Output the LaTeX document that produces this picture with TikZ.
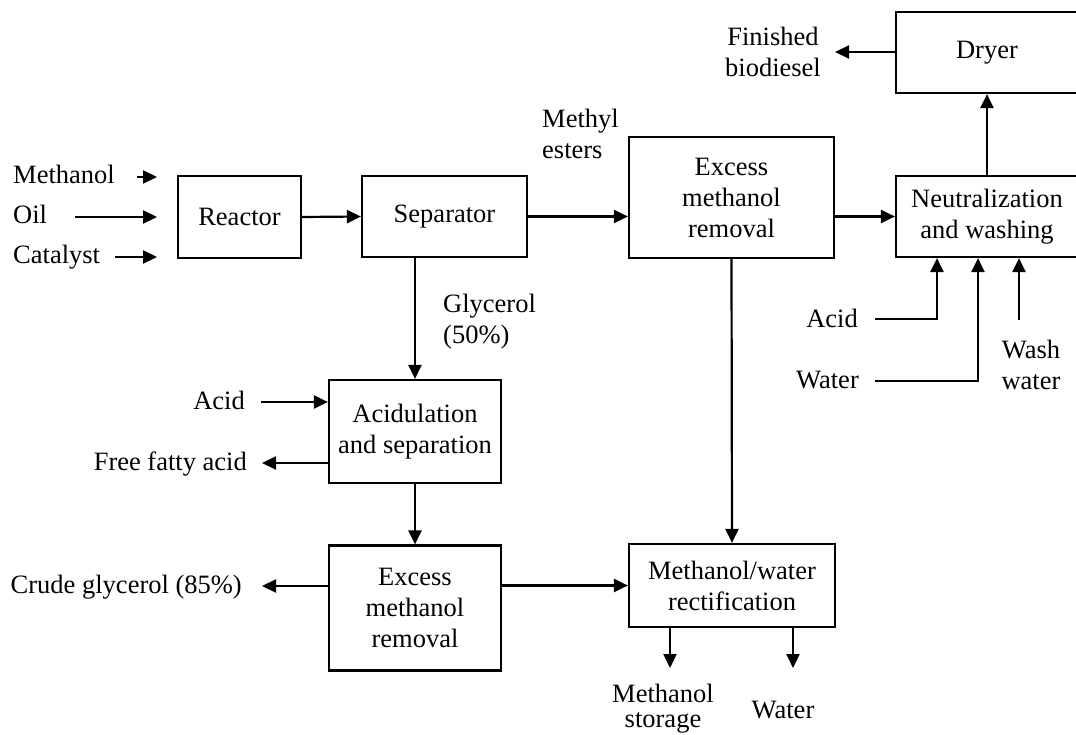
\documentclass[tikz,border=0pt]{standalone}
\usepackage{fontspec}
\setmainfont{Liberation Serif}
\usetikzlibrary{arrows.meta,calc}
\begin{document}
\begin{tikzpicture}[x=1pt,y=-1pt,
  every node/.style={font=\fontsize{26.5}{31}\selectfont, inner sep=0pt},
  box/.style={draw, line width=2.2pt, align=center},
  lbl/.style={align=left},
  clbl/.style={align=center},
  flow/.style={line width=2.2pt, -{Triangle[length=14pt,width=13pt]}},
]
\useasboundingbox (0,0) rectangle (1076,735);
\clip (0,0) rectangle (1076,735);

% process boxes
\node[box, minimum width=123pt, minimum height=82pt] (reactor) at (239.5,217) {Reactor};
\node[box, minimum width=165pt, minimum height=81pt] (sep) at (444.5,216.5) {Separator};
\node[box, minimum width=205pt, minimum height=121pt] (exc1) at (731.5,197.5) {Excess\\methanol\\removal};
\node[box, minimum width=182pt, minimum height=81pt] (dryer) at (987,52.5) {Dryer};
\node[box, minimum width=182pt, minimum height=81pt] (neut) at (987,216.5) {Neutralization\\and washing};
\node[box, minimum width=172pt, minimum height=103pt] (acidb) at (415,431.5) {Acidulation\\and separation};
\node[box, minimum width=172pt, minimum height=125pt] (exc2) at (415,608) {Excess\\methanol\\removal};
\node[box, minimum width=206pt, minimum height=83pt] (mw) at (732,585.5) {Methanol/water\\rectification};

% labels
\node[anchor=base west] (lmeth) at (13,184) {Methanol};
\node[anchor=base west] (loil) at (13,224) {Oil};
\node[anchor=base west] (lcat) at (13,264) {Catalyst};
\node[lbl, anchor=north west] (lme) at (542,109) {Methyl\\esters};
\node[clbl, anchor=north] (lfin) at (773,27) {Finished\\biodiesel};
\node[lbl, anchor=north west] (lgly) at (443,294) {Glycerol\\(50\%)};
\node[anchor=base east] (lacid1) at (245,409) {Acid};
\node[anchor=base east] (lffa) at (247,470) {Free fatty acid};
\node[anchor=base east] (lcrude) at (242,593) {Crude glycerol (85\%)};
\node[anchor=base east] (lacid2) at (858,327) {Acid};
\node[anchor=base east] (lwater1) at (859,388) {Water};
\node[clbl, anchor=north] (lwash) at (1031,340) {Wash\\water};
\node[clbl, anchor=north] (lstore) at (663,684) {Methanol\\[-6pt]storage};
\node[anchor=base] (lwater2) at (783,718) {Water};

% free ends
\coordinate (m1) at (137,177); \coordinate (m2) at (157,177);
\coordinate (o1) at (75,217);  \coordinate (o2) at (157,217);
\coordinate (c1) at (115,257); \coordinate (c2) at (157,257);
\coordinate (fin) at (835,52);
\coordinate (a1) at (261,402);
\coordinate (ffa) at (262,463);
\coordinate (crude) at (262,586);
\coordinate (acid2) at (875,319);
\coordinate (water1) at (875,381);
\coordinate (wash) at (1019,320);
\coordinate (mstore) at (670,668);
\coordinate (wout) at (793,668);

% connectors
\draw[flow] (m1) -- (m2);
\draw[flow] (o1) -- (o2);
\draw[flow] (c1) -- (c2);
\draw[flow] (reactor.east) -- (sep.west);
\draw[flow] (sep.east) -- (sep.east -| exc1.west);
\draw[flow] (exc1.east |- neut.west) -- (neut.west);
\draw[flow] (neut.north) -- (dryer.south);
\draw[flow] (dryer.west |- fin) -- (fin);
\draw[flow] (acidb.north |- sep.south) -- (acidb.north);
\draw[flow] (a1) -- (a1 -| acidb.west);
\draw[flow] (ffa -| acidb.west) -- (ffa);
\draw[flow] (acidb.south) -- (exc2.north);
\draw[flow] (crude -| exc2.west) -- (crude);
\draw[flow] (exc2.east |- mw.west) -- (mw.west);
\draw[flow] (exc1.south) -- (mw.north);
\draw[flow] (mstore |- mw.south) -- (mstore);
\draw[flow] (wout |- mw.south) -- (wout);
\draw[flow] (acid2) -| (937,0 |- neut.south);
\draw[flow] (water1) -| (978,0 |- neut.south);
\draw[flow] (wash) -- (wash |- neut.south);
\end{tikzpicture}
\end{document}
